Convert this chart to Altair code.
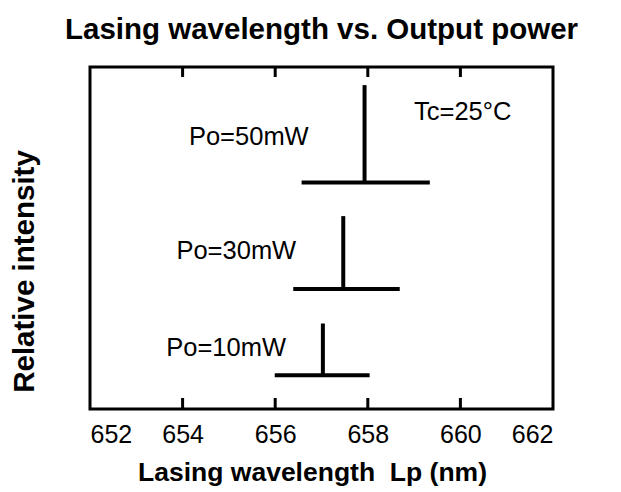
import altair as alt
import pandas as pd

# Data
powers = ["Po=10mW", "Po=30mW", "Po=50mW"]
peak_nm = [657.03, 657.47, 657.93]
base_lo_nm = [655.99, 656.39, 656.57]
base_hi_nm = [658.04, 658.69, 659.34]
base_level = [9.9, 35.1, 66.2]
peak_level = [25.0, 56.4, 94.7]
label_nm = [654.94, 655.16, 655.43]
label_level = [15.5, 44.0, 77.3]

note_text = ["Tc=25°C"]
note_nm = [660.05]
note_level = [84.4]

tick_values = [652, 654, 656, 658, 660, 662]
inner_ticks = [654, 656, 658, 660]

W, H = 463, 342
FONT = "Liberation Sans"

df = pd.DataFrame({
    "power": powers, "peak": peak_nm, "lo": base_lo_nm, "hi": base_hi_nm,
    "base": base_level, "top": peak_level, "lx": label_nm, "ly": label_level,
})
notes = pd.DataFrame({"text": note_text, "x": note_nm, "y": note_level})
ticks = pd.DataFrame({"t": inner_ticks})

xs = alt.Scale(domain=[652, 662], nice=False, zero=False)
ys = alt.Scale(domain=[0, 100], nice=False, zero=False)

xaxis = alt.Axis(values=tick_values, format="d", tickSize=0, domain=False, grid=False,
                 labelFontSize=25, labelFont=FONT, labelColor="black", labelPadding=13,
                 title="Lasing wavelength\u00a0 Lp (nm)", titleFont=FONT, titleFontSize=26.5,
                 titleFontWeight="bold", titleColor="black", titleX=222, titleY=63,
                 titleAlign="center", titleBaseline="middle")
yaxis = alt.Axis(labels=False, ticks=False, domain=False, grid=False,
                 title="Relative intensity", titleFont=FONT, titleFontSize=29.5,
                 titleFontWeight="bold", titleColor="black", titleAngle=-90,
                 titleX=-66, titleY=204, titleAlign="center", titleBaseline="middle")

base = alt.Chart(df)

vert = base.mark_rule(color="black", strokeWidth=4).encode(
    x=alt.X("peak:Q", scale=xs, axis=xaxis),
    y=alt.Y("base:Q", scale=ys, axis=yaxis),
    y2="top:Q",
)
horiz = base.mark_rule(color="black", strokeWidth=4).encode(
    x="lo:Q", x2="hi:Q", y="base:Q",
)
labels = base.mark_text(font=FONT, fontSize=25.5, color="black", align="center",
                        baseline="alphabetic").encode(
    x="lx:Q", y="ly:Q", text="power:N",
)
note = alt.Chart(notes).mark_text(font=FONT, fontSize=25.5, color="black", align="center",
                                  baseline="alphabetic").encode(
    x="x:Q", y="y:Q", text="text:N",
)
bottom_ticks = alt.Chart(ticks).mark_rule(color="black", strokeWidth=3).encode(
    x="t:Q", y=alt.value(H), y2=alt.value(H - 11),
)
top_ticks = alt.Chart(ticks).mark_rule(color="black", strokeWidth=3).encode(
    x="t:Q", y=alt.value(0), y2=alt.value(10),
)

chart = alt.layer(vert, horiz, labels, note, bottom_ticks, top_ticks).properties(
    width=W, height=H,
    autosize=alt.AutoSizeParams(type="none"),
    padding={"left": 82, "top": 59, "right": 60, "bottom": 82},
    title=alt.TitleParams("Lasing wavelength vs. Output power", font=FONT, fontSize=29.5,
                          fontWeight="bold", color="black", anchor="middle", offset=20),
).configure(background="white").configure_view(stroke="black", strokeWidth=3)

chart.save("out.html", embed_options={"renderer": "svg", "actions": False})
